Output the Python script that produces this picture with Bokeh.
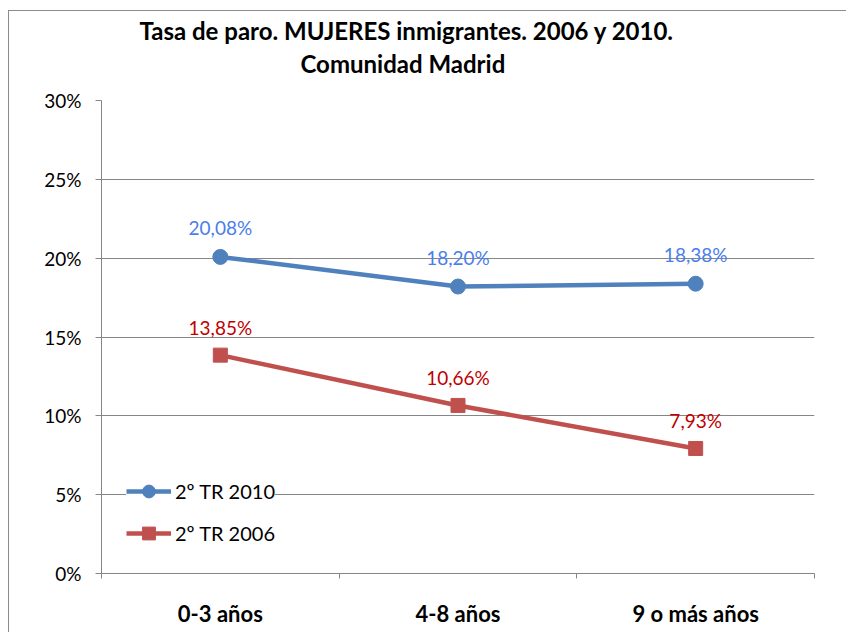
from bokeh.plotting import figure
from bokeh.models import (Range1d, FixedTicker, LinearAxis, Title, ColumnDataSource)
from bokeh.core.properties import value
from bokeh.embed import file_html
from bokeh.resources import INLINE

# ---- data ----
categories = ["0-3 años", "4-8 años", "9 o más años"]
series_2010 = [20.08, 18.20, 18.38]
series_2006 = [13.85, 10.66, 7.93]
name_2010 = "2º TR 2010"
name_2006 = "2º TR 2006"
y_ticks = [0, 5, 10, 15, 20, 25, 30]
y_tick_labels = ["0%", "5%", "10%", "15%", "20%", "25%", "30%"]
title_lines = ["Tasa de  paro. MUJERES inmigrantes. 2006 y 2010.", "Comunidad Madrid"]

FONT = "Lato"
BLUE = "#4F81BD"
RED = "#C0504D"
BLUE_TXT = "#4A7EEB"
RED_TXT = "#C00000"
GRID = "#868686"

xs = [i + 0.5 for i in range(len(categories))]
bounds = [float(i) for i in range(len(categories) + 1)]

def fmt(v):
    return f"{v:.2f}".replace(".", ",") + "%"

src10 = ColumnDataSource(dict(x=xs, y=series_2010, t=[fmt(v) for v in series_2010]))
src06 = ColumnDataSource(dict(x=xs, y=series_2006, t=[fmt(v) for v in series_2006]))

p = figure(width=838, height=622, output_backend="svg", toolbar_location=None,
           x_range=Range1d(bounds[0], bounds[-1]), y_range=Range1d(y_ticks[0], y_ticks[-1]),
           x_axis_type=None, min_border_left=92, min_border_right=33,
           min_border_top=89, min_border_bottom=60)
p.outline_line_color = None
p.background_fill_color = "white"
p.border_fill_color = "white"
p.styles = {"border-left": "1px solid #8c8c8c", "border-top": "1px solid #8c8c8c",
            "margin-left": "8px", "margin-top": "10px"}

# y axis
ya = p.yaxis[0]
ya.ticker = FixedTicker(ticks=y_ticks)
ya.major_label_overrides = {t: l for t, l in zip(y_ticks, y_tick_labels)}
ya.axis_line_color = GRID
ya.major_tick_line_color = GRID
ya.major_tick_out = 6
ya.major_tick_in = 0
ya.minor_tick_line_color = None
ya.major_label_standoff = 14
ya.major_label_text_font = FONT
ya.major_label_text_font_size = "19px"
ya.major_label_text_color = "black"

p.ygrid.ticker = FixedTicker(ticks=y_ticks)
p.ygrid.grid_line_color = GRID
p.xgrid.grid_line_color = None

# x axis
xa = LinearAxis(ticker=FixedTicker(ticks=xs, minor_ticks=bounds))
xa.major_label_overrides = {x: c for x, c in zip(xs, categories)}
xa.axis_line_color = GRID
xa.major_tick_line_color = None
xa.major_tick_out = 0
xa.major_tick_in = 0
xa.minor_tick_line_color = GRID
xa.minor_tick_out = 5
xa.minor_tick_in = 0
xa.major_label_standoff = 21
xa.major_label_text_font = FONT
xa.major_label_text_font_style = "bold"
xa.major_label_text_font_size = "22px"
xa.major_label_text_color = "black"
p.add_layout(xa, "below")

# series
p.line("x", "y", source=src10, line_color=BLUE, line_width=4.5, legend_label=name_2010)
p.scatter("x", "y", source=src10, marker="circle", size=15, fill_color=BLUE,
          line_color=BLUE, legend_label=name_2010)
p.line("x", "y", source=src06, line_color=RED, line_width=4.5, legend_label=name_2006)
p.scatter("x", "y", source=src06, marker="square", size=14, fill_color=RED,
          line_color=RED, legend_label=name_2006)

# data labels
p.text("x", "y", text="t", source=src10, text_color=BLUE_TXT, text_font=value(FONT),
       text_font_size="19px", text_align="center", text_baseline="middle", y_offset=-29)
p.text("x", "y", text="t", source=src06, text_color=RED_TXT, text_font=value(FONT),
       text_font_size="19px", text_align="center", text_baseline="middle", y_offset=-28)

# title (stacked from the frame outward: spacer, line 2, line 1)
p.add_layout(Title(text=" ", text_font=FONT, text_font_size="10px", standoff=8), "above")
p.add_layout(Title(text=title_lines[1], align="left", offset=199, text_font=FONT,
                   text_font_style="bold", text_font_size="24px", text_color="black",
                   standoff=2), "above")
p.add_layout(Title(text=title_lines[0], align="left", offset=38, text_font=FONT,
                   text_font_style="bold", text_font_size="24px", text_color="black",
                   standoff=2), "above")

# legend
lg = p.legend[0]
lg.location = (25, 24)
lg.background_fill_color = "white"
lg.background_fill_alpha = 1
lg.border_line_color = None
lg.label_text_font = FONT
lg.label_text_font_size = "20px"
lg.label_text_color = "black"
lg.glyph_width = 45
lg.glyph_height = 32
lg.label_height = 32
lg.label_standoff = 4
lg.spacing = 10
lg.padding = 10
lg.margin = 0

open("out.html", "w").write(file_html(p, INLINE))
